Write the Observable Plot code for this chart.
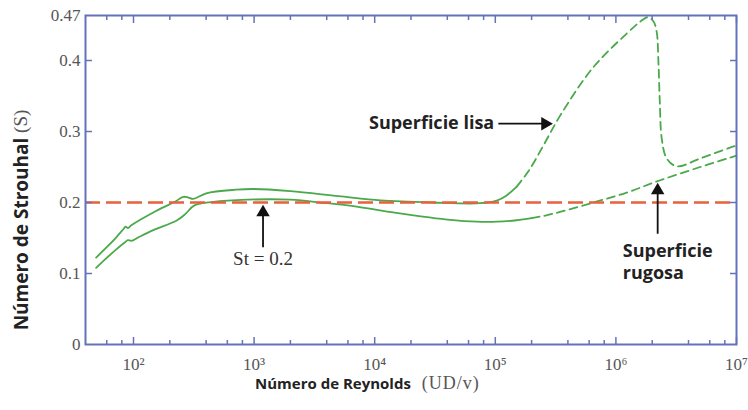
<!DOCTYPE html>
<html><head><meta charset="utf-8">
<script src="https://cdn.jsdelivr.net/npm/d3@7"></script>
<script src="https://cdn.jsdelivr.net/npm/@observablehq/plot@0.6"></script>
<style>body{margin:0;background:#fff}#chart{width:748px;height:410px}</style>
</head><body><div id="chart"></div>
<script>
// ---- data ----
const lisaRe = [49, 60, 72, 82, 86, 90, 96, 146, 220, 259, 285, 313, 401, 709, 1000, 2000, 5000, 11200, 30000, 75000, 104000, 124000, 150000, 190000, 250000, 344000, 646000, 1230000, 1600000, 1840000, 2050000, 2180000, 2250000, 2310000, 2400000, 2640000, 3190000, 5000000, 8750000, 10000000];
const lisaS  = [0.1225, 0.137, 0.151, 0.162, 0.166, 0.164, 0.168, 0.186, 0.201, 0.208, 0.207, 0.205, 0.213, 0.218, 0.219, 0.216, 0.209, 0.203, 0.200, 0.199, 0.203, 0.210, 0.222, 0.245, 0.280, 0.322, 0.390, 0.438, 0.455, 0.461, 0.455, 0.440, 0.400, 0.344, 0.290, 0.262, 0.251, 0.262, 0.277, 0.280];
const lisaSolidEnd = 150000;

const rugosaRe = [49, 60, 72, 85, 90, 96, 110, 146, 230, 270, 320, 460, 880, 2000, 4000, 6000, 12000, 25000, 40000, 70000, 104000, 150000, 200000, 250000, 350000, 650000, 1230000, 2300000, 5000000, 8750000, 10000000];
const rugosaS  = [0.108, 0.122, 0.134, 0.144, 0.147, 0.146, 0.151, 0.161, 0.175, 0.184, 0.196, 0.201, 0.204, 0.204, 0.199, 0.196, 0.188, 0.180, 0.176, 0.173, 0.173, 0.175, 0.178, 0.181, 0.187, 0.200, 0.214, 0.231, 0.250, 0.263, 0.266];
const rugosaSolidEnd = 200000;

const stRef = 0.2;

const xDomain = [40, 1e7];
const xMajor = [1e2, 1e3, 1e4, 1e5, 1e6, 1e7];
const xMajorLabels = ["10²", "10³", "10⁴", "10⁵", "10⁶", "10⁷"];
const xStart = [40];
const xStartLabels = ["40"];
const xMinor = [60, 80, 200, 400, 600, 800, 2e3, 4e3, 6e3, 8e3, 2e4, 4e4, 6e4, 8e4, 2e5, 4e5, 6e5, 8e5, 2e6, 4e6, 6e6, 8e6];

const yMax = 0.4634;
const yTicks = [0, 0.1, 0.2, 0.3, 0.4, yMax];
const yTickLabels = ["0", "0.1", "0.2", "0.3", "0.4", "0.47"];
const yInnerTicks = [0.1, 0.2, 0.3, 0.4];

// annotations
const arrowX1 = [1186, 106000, 2220000];
const arrowY1 = [0.137, 0.311, 0.156];
const arrowX2 = [1186, 259000, 2220000];
const arrowY2 = [0.186, 0.311, 0.217];
const arrowRot = [0, 90, 0];

const noteText = ["St = 0.2"];
const noteX = [1186];
const noteY = [0.121];

const lisaLabel = ["Superficie lisa"];
const lisaLabelX = [98000];
const lisaLabelY = [0.311];
const rugosaLabel = ["Superficie", "rugosa"];
const rugosaLabelX = [1140000, 1140000];
const rugosaLabelY = [0.132, 0.100];

const yTitle = ["Número de Strouhal", " (S)"];
const xTitle = ["Número de Reynolds", "  (UD/v)"];

// ---- build ----
const green = "#4aa94a";
const frameColor = "#6473b8";
const serif = "'Liberation Serif', serif";
const sans = "'Open Sans', sans-serif";

const lisa = lisaRe.map((re, i) => ({re, s: lisaS[i]}));
const rugosa = rugosaRe.map((re, i) => ({re, s: rugosaS[i]}));
const arrows = arrowX1.map((x1, i) => ({x1, y1: arrowY1[i], x2: arrowX2[i], y2: arrowY2[i], rot: arrowRot[i]}));
const notes = noteText.map((t, i) => ({t, x: noteX[i], y: noteY[i]}));
const lisaNotes = lisaLabel.map((t, i) => ({t, x: lisaLabelX[i], y: lisaLabelY[i]}));
const rugosaNotes = rugosaLabel.map((t, i) => ({t, x: rugosaLabelX[i], y: rugosaLabelY[i]}));

const lineOpts = {x: "re", y: "s", stroke: green, strokeWidth: 1.8, curve: "catmull-rom"};
const boldOpts = {x: "x", y: "y", text: "t", fill: "#222", fontSize: 18, fontWeight: "bold"};

const svg = Plot.plot({
  width: 748, height: 410,
  marginLeft: 85, marginRight: 12, marginTop: 15, marginBottom: 66,
  style: {background: "#fff", color: "#555"},
  x: {type: "log", domain: xDomain, label: null},
  y: {domain: [0, yMax], label: null},
  marks: [
    Plot.line(lisa.filter(d => d.re <= lisaSolidEnd), lineOpts),
    Plot.line(lisa.filter(d => d.re >= lisaSolidEnd), {...lineOpts, strokeDasharray: "8,5"}),
    Plot.line(rugosa.filter(d => d.re <= rugosaSolidEnd), lineOpts),
    Plot.line(rugosa.filter(d => d.re >= rugosaSolidEnd), {...lineOpts, strokeDasharray: "8,5"}),
    Plot.ruleY([stRef], {stroke: "#e8603c", strokeWidth: 2.6, strokeDasharray: "15,6"}),
    Plot.axisX(xMajor, {anchor: "bottom", tickSize: -7, fill: "none", stroke: frameColor, strokeWidth: 1.5, label: null}),
    Plot.axisX(xMinor, {anchor: "bottom", tickSize: -4, fill: "none", stroke: frameColor, strokeWidth: 1.5, label: null}),
    Plot.axisX(xMajor, {anchor: "top", tickSize: -7, fill: "none", stroke: frameColor, strokeWidth: 1.5, label: null}),
    Plot.axisX(xMinor, {anchor: "top", tickSize: -4, fill: "none", stroke: frameColor, strokeWidth: 1.5, label: null}),
    Plot.axisY(yInnerTicks, {anchor: "left", tickSize: -7, fill: "none", stroke: frameColor, strokeWidth: 1.5, label: null}),
    Plot.axisY(yInnerTicks, {anchor: "right", tickSize: -7, fill: "none", stroke: frameColor, strokeWidth: 1.5, label: null}),
    Plot.axisX(xMajor, {anchor: "bottom", tickSize: 0, tickPadding: 13, tickFormat: d => xMajorLabels[xMajor.indexOf(d)], fill: "#555", fontSize: 17, label: null}),
    Plot.axisX(xStart, {anchor: "bottom", tickSize: 0, tickPadding: 4, tickFormat: d => xStartLabels[xStart.indexOf(d)], fill: "#555", fontSize: 17, label: null}),
    Plot.axisY(yTicks, {anchor: "left", tickSize: 0, tickPadding: 5, tickFormat: d => yTickLabels[yTicks.indexOf(d)], fill: "#555", fontSize: 17, label: null}),
    Plot.frame({stroke: frameColor, strokeWidth: 2}),
    Plot.link(arrows, {x1: "x1", y1: "y1", x2: "x2", y2: "y2", stroke: "#111", strokeWidth: 1.8}),
    Plot.dot(arrows, {x: "x2", y: "y2", symbol: "triangle", r: 5, fill: "#111", stroke: "none", rotate: "rot"}),
    Plot.text(notes, {x: "x", y: "y", text: "t", fill: "#333", fontSize: 19}),
    Plot.text(lisaNotes, {...boldOpts, textAnchor: "end"}),
    Plot.text(rugosaNotes, {...boldOpts, textAnchor: "start"})
  ]
});

const s = d3.select(svg);
s.selectAll("text").style("font-family", serif);
const textGroups = s.selectAll('g[aria-label="text"]').nodes();
textGroups.slice(1).forEach(g => d3.select(g).selectAll("text").style("font-family", sans));

const yt = s.append("text")
  .attr("transform", "translate(23,220) rotate(-90)")
  .attr("text-anchor", "middle")
  .attr("dominant-baseline", "middle");
yt.append("tspan").style("font-family", sans).attr("font-weight", "bold").attr("font-size", 19).attr("fill", "#222").text(yTitle[0]);
yt.append("tspan").style("font-family", serif).attr("font-size", 19).attr("fill", "#555").text(yTitle[1]);

const xt = s.append("text")
  .attr("x", 255).attr("y", 385)
  .attr("text-anchor", "start")
  .attr("dominant-baseline", "middle");
xt.append("tspan").style("font-family", sans).attr("font-weight", "bold").attr("font-size", 15).attr("fill", "#222").text(xTitle[0]);
xt.append("tspan").style("font-family", serif).attr("font-size", 18).attr("letter-spacing", 1).attr("fill", "#555").text(xTitle[1]);

document.getElementById("chart").appendChild(svg);
</script></body></html>
